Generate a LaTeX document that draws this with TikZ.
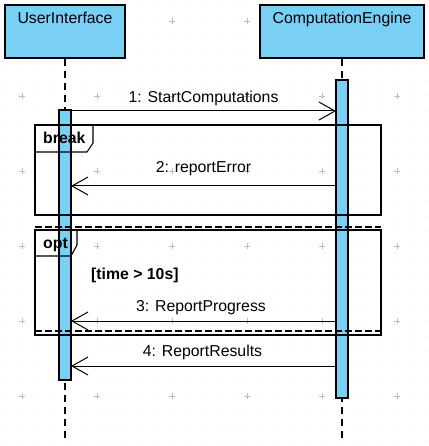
\documentclass[tikz,border=0pt]{standalone}
\usepackage{fontspec}
\setmainfont{Liberation Sans}
\usetikzlibrary{arrows.meta}
\definecolor{lifeblue}{RGB}{122,207,245}
\definecolor{griddot}{RGB}{205,205,205}
\tikzset{
  lifebox/.style={draw=black, line width=1.1pt, fill=lifeblue, minimum width=120pt, minimum height=53pt, inner sep=0pt},
  actbar/.style={draw=black, line width=1.1pt, fill=lifeblue},
  lifeline/.style={line width=1.3pt, dash pattern=on 7pt off 5pt},
  msg/.style={line width=1pt, -{Straight Barb[length=16pt, width=18pt, line width=1pt]}},
  framebox/.style={draw=black, line width=1.1pt},
  sep/.style={line width=1.1pt, dash pattern=on 7pt off 3pt},
  lbl/.style={font=\fontsize{15.8}{18}\selectfont, inner sep=0pt, anchor=base},
  tablbl/.style={font=\fontsize{15.8}{18}\selectfont\bfseries, inner sep=0pt, anchor=base west},
}
\begin{document}
\begin{tikzpicture}[x=1pt, y=-1pt]
\useasboundingbox (0,0) rectangle (428,446);
\fill[white] (0,0) rectangle (428,446);
% background grid
\foreach \i in {0,...,28} {
  \foreach \j in {0,...,29} {
    \fill[griddot] (7+15*\i, 6+15*\j) circle (0.5pt);
  }
}
\foreach \i in {0,...,5} {
  \foreach \j in {0,...,5} {
    \draw[griddot!80!gray, line width=0.5pt] (22+75*\i-3, 21+75*\j) -- ++(6,0) (22+75*\i, 21+75*\j-3) -- ++(0,6);
  }
}
% lifeline heads
\node[lifebox] (ui) at (65,31.5) {};
\node[lbl] (uit) at (65,24) {UserInterface};
\node[lifebox, minimum width=164pt] (ce) at (342,31.5) {};
\node[lbl] (cet) at (342,24) {ComputationEngine};
% lifelines
\coordinate (uiend) at (65,442);
\coordinate (ceend) at (342,442);
\draw[lifeline] (ui.south) -- (uiend);
\draw[lifeline] (ce.south) -- (ceend);
% activation bars
\draw[actbar] (59,110) rectangle (71,380);
\coordinate (uiR1) at (71,111);
\coordinate (uiR2) at (71,186);
\coordinate (uiR3) at (71,321);
\coordinate (uiR4) at (71,366);
\draw[actbar] (336,80) rectangle (348,398);
\coordinate (ceL1) at (336,111);
\coordinate (ceL2) at (336,186);
\coordinate (ceL3) at (336,321);
\coordinate (ceL4) at (336,366);
% break frame
\draw[framebox] (35,125) rectangle (381,215);
\draw[framebox] (35,152) -- (87,152) -- (93,143) -- (93,125);
\node[tablbl] (brk) at (43,144) {break};
% separator
\coordinate (sepL) at (35,227);
\coordinate (sepR) at (381,227);
\draw[sep] (sepL) -- (sepR);
% opt frame
\draw[framebox] (35,230) rectangle (381,335);
\draw[framebox] (35,256) -- (71,256) -- (77,245) -- (77,230);
\node[tablbl] (opt) at (43,248) {opt};
\node[tablbl] (guard) at (91,279) {[time > 10s]};
\coordinate (sep2L) at (35,331);
\coordinate (sep2R) at (381,331);
\draw[sep] (sep2L) -- (sep2R);
% messages
\draw[msg] (uiR1) -- (ceL1);
\node[lbl] (m1) at (203.5,103) {1: StartComputations};
\draw[msg] (ceL2) -- (uiR2);
\node[lbl] (m2) at (203.5,172) {2: reportError};
\draw[msg] (ceL3) -- (uiR3);
\node[lbl] (m3) at (201,311) {3: ReportProgress};
\draw[msg] (ceL4) -- (uiR4);
\node[lbl] (m4) at (202.5,356) {4: ReportResults};
\end{tikzpicture}
\end{document}
